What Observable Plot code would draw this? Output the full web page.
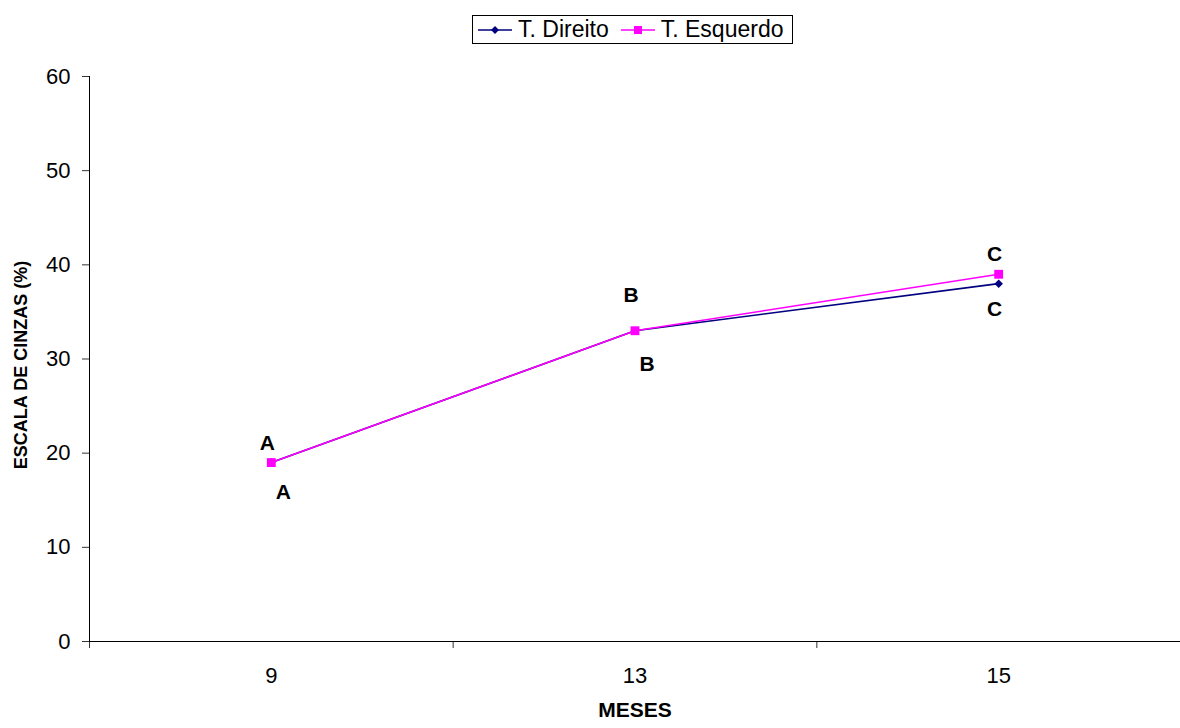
<!DOCTYPE html>
<html><head><meta charset="utf-8">
<script src="https://cdn.jsdelivr.net/npm/d3@7"></script>
<script src="https://cdn.jsdelivr.net/npm/@observablehq/plot@0.6"></script>
<style>
body{margin:0;background:#fff;font-family:"Liberation Sans",Arial,sans-serif;}
#wrap{position:relative;width:1180px;height:728px;}
#legend{position:absolute;left:472px;top:15px;height:27px;border:1px solid #000;display:flex;align-items:center;padding:0 8px 0 5px;font-size:23px;line-height:27px;color:#000;background:#fff;white-space:nowrap;}
#legend .item{display:flex;align-items:center;margin-right:12px;}
#legend .item:last-child{margin-right:0}
#legend svg{margin-right:6px;display:block}
#chart{position:absolute;left:0;top:60px;}
</style></head>
<body><div id="wrap"><div id="legend"></div><div id="chart"></div></div>
<script>
const months = ["9", "13", "15"];
const direito = [19, 33, 38];
const esquerdo = [19, 33, 39];
const seriesNames = ["T. Direito", "T. Esquerdo"];
const seriesColors = ["#000080", "#FF00FF"];
// letters and where they sit
const labelLetters = ["A", "B", "C"];
const labelAbove = [21.0, 36.8, 41.1];
const labelBelow = [15.9, 29.4, 35.3];

const data = [];
months.forEach((m, i) => {
  data.push({i, series: seriesNames[0], value: direito[i]});
  data.push({i, series: seriesNames[1], value: esquerdo[i]});
});
const above = months.map((m, i) => ({i, letter: labelLetters[i], value: labelAbove[i]}));
const below = months.map((m, i) => ({i, letter: labelLetters[i], value: labelBelow[i]}));

const dDir = data.filter(d => d.series === seriesNames[0]);
const dEsq = data.filter(d => d.series === seriesNames[1]);

// square-ish diamond (rotated square), like the spreadsheet marker
const rhombus = {
  draw(context, size) {
    const h = Math.sqrt(size / Math.PI) * 0.85;
    context.moveTo(0, -h);
    context.lineTo(h, 0);
    context.lineTo(0, h);
    context.lineTo(-h, 0);
    context.closePath();
  }
};

const plot = Plot.plot({
  width: 1180, height: 668,
  marginLeft: 89, marginRight: 0, marginTop: 16, marginBottom: 87,
  style: {fontFamily: "Liberation Sans, Arial, sans-serif", fontSize: "22px", color: "#000", background: "#fff"},
  x: {domain: [-0.5, months.length - 0.5], axis: null},
  y: {domain: [0, 60], axis: null},
  marks: [
    Plot.axisY({ticks: d3.range(0, 61, 10), tickSize: 7, tickPadding: 12, label: null, fontSize: 22, stroke: "#333"}),
    Plot.axisX({ticks: months.map((m, i) => i), tickFormat: i => months[i], tickSize: 0, tickPadding: 26, label: null, fontSize: 22}),
    Plot.axisX({ticks: d3.range(-0.5, months.length, 1), tickFormat: () => "", tickSize: 7, label: null, stroke: "#333"}),
    Plot.ruleX([-0.5], {stroke: "#000"}),
    Plot.ruleY([0], {stroke: "#000"}),
    Plot.line(dDir, {x: "i", y: "value", stroke: seriesColors[0], strokeWidth: 1.6}),
    Plot.dot(dDir, {x: "i", y: "value", symbol: rhombus, r: 5, fill: seriesColors[0], stroke: "none"}),
    Plot.line(dEsq, {x: "i", y: "value", stroke: seriesColors[1], strokeWidth: 1.6}),
    Plot.dot(dEsq, {x: "i", y: "value", symbol: "square", r: 5, fill: seriesColors[1], stroke: "none"}),
    Plot.text(above, {x: "i", y: "value", text: "letter", dx: -4, fontWeight: "bold", fontSize: 21}),
    Plot.text(below.filter(d => d.i < 2), {x: "i", y: "value", text: "letter", dx: 12, fontWeight: "bold", fontSize: 21}),
    Plot.text(below.filter(d => d.i >= 2), {x: "i", y: "value", text: "letter", dx: -4, fontWeight: "bold", fontSize: 21}),
    Plot.text(["ESCALA DE CINZAS (%)"], {frameAnchor: "left", textAnchor: "middle", dx: -68, dy: 6, rotate: -90, fontWeight: "bold", fontSize: 18}),
    Plot.text(["MESES"], {frameAnchor: "bottom", textAnchor: "middle", dy: 75, fontWeight: "bold", fontSize: 21})
  ]
});
document.getElementById("chart").appendChild(plot);

// legend
const leg = document.getElementById("legend");
seriesNames.forEach((name, k) => {
  const item = document.createElement("div");
  item.className = "item";
  const marker = k === 0
    ? `<path d="M17,11 L21,15 L17,19 L13,15 Z" fill="${seriesColors[k]}"/>`
    : `<rect x="13" y="11" width="8" height="8" fill="${seriesColors[k]}"/>`;
  item.innerHTML = `<svg width="34" height="30"><line x1="0" x2="34" y1="15" y2="15" stroke="${seriesColors[k]}" stroke-width="1.6"/>${marker}</svg><span>${name}</span>`;
  leg.appendChild(item);
});
</script></body></html>
